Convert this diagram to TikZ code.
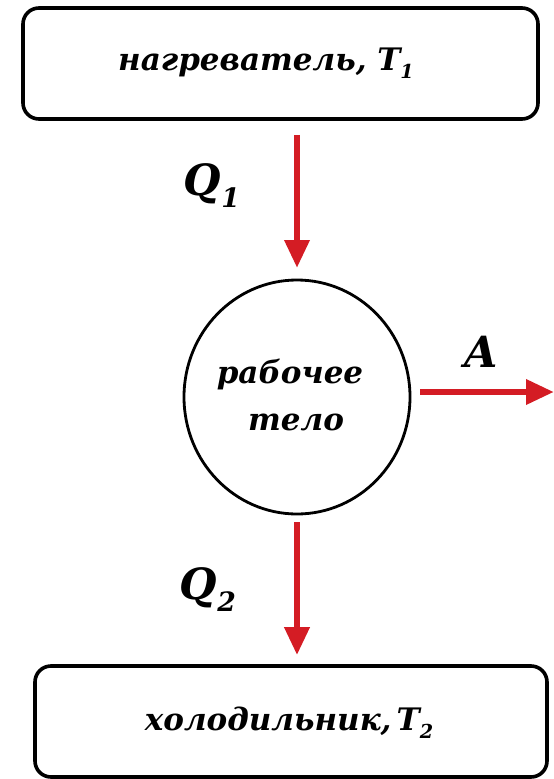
\documentclass[tikz,border=0pt]{standalone}
\usepackage{fontspec}
\setmainfont{DejaVu Serif}
\usetikzlibrary{arrows.meta,calc}
\definecolor{arrred}{RGB}{212,28,36}
\newcommand{\sbs}[1]{\raisebox{-0.28em}{\fontsize{0.62em}{0.7em}\selectfont #1}}
\begin{document}
\begin{tikzpicture}[x=1pt,y=1pt,
  boxst/.style={draw=black,line width=3.6pt,rounded corners=16pt,inner sep=0pt},
  txt/.style={font=\bfseries\itshape\fontsize{31}{36}\selectfont,inner sep=0pt,anchor=base},
  wtxt/.style={font=\bfseries\itshape\fontsize{31}{38}\selectfont,inner sep=0pt,anchor=base},
  lbl/.style={font=\bfseries\itshape\fontsize{43}{48}\selectfont,inner sep=0pt},
  flow/.style={draw=arrred,line width=6.5pt,-{Triangle[length=28pt,width=24pt]}}]
\useasboundingbox (0,0) rectangle (554,-779);
\node[boxst,minimum width=515pt,minimum height=111pt] (heater) at (280.5,-63.5) {};
\node[boxst,minimum width=512pt,minimum height=111pt] (cooler) at (291,-721.5) {};
\draw[line width=2.8pt] (297,-397) ellipse [x radius=113, y radius=117];
\coordinate (body) at (297,-397);
\coordinate (bodyN) at (297,-280);
\coordinate (bodyS) at (297,-514);
\coordinate (bodyE) at (410,-392);
\node[txt] (htxt) at (266,-70) {нагреватель, T\sbs{1}};
\node[txt] (ctxt) at (289,-730) {холодильник,\,T\sbs{2}};
\node[wtxt] (w1) at (290,-383) {рабочее};
\node[wtxt] (w2) at (296,-430) {тело};
\node[lbl] (q1) at (212,-186) {Q\sbs{1}};
\node[lbl] (q2) at (208,-590) {Q\sbs{2}};
\node[lbl] (a) at (481,-352) {A};
\coordinate (aend) at (554,-392);
\draw[flow,shorten <=14pt,shorten >=12pt] (heater.south -| bodyN) -- (bodyN);
\draw[flow,shorten <=8pt,shorten >=9pt] (bodyS) -- (cooler.north -| bodyS);
\draw[flow,shorten <=10pt] (bodyE) -- (aend);
\end{tikzpicture}
\end{document}
